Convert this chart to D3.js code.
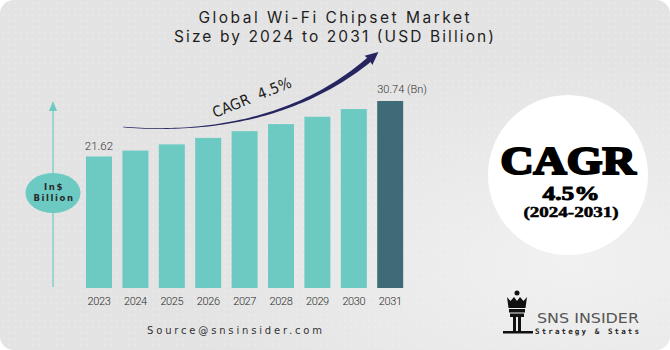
<!DOCTYPE html>
<html>
<head>
<meta charset="utf-8">
<script src="https://cdn.jsdelivr.net/npm/d3@7"></script>
<style>
  html, body { margin: 0; padding: 0; background: #fff; }
  svg { display: block; }
</style>
</head>
<body>
<svg id="chart" width="670" height="350"></svg>
<script>
// données
const years = ["2023", "2024", "2025", "2026", "2027", "2028", "2029", "2030", "2031"];
const values = [21.62, 22.59, 23.61, 24.67, 25.78, 26.94, 28.15, 29.42, 30.74];
const firstLabel = "21.62";
const lastLabel = "30.74 (Bn)";
const titleLines = ["Global Wi-Fi Chipset Market", "Size by 2024 to 2031 (USD Billion)"];
const cagrText = "CAGR  4.5%";
const cagrBadge = ["CAGR", "4.5%", "(2024-2031)"];

const svg = d3.select("#chart");
const W = 670, H = 350;

// fond
const defs = svg.append("defs");
const pat = defs.append("pattern")
    .attr("id", "dots")
    .attr("width", 6).attr("height", 6)
    .attr("patternUnits", "userSpaceOnUse");
pat.append("circle").attr("cx", 3).attr("cy", 3).attr("r", 0.8).attr("fill", "#f4f4f4");

const grad = defs.append("radialGradient")
    .attr("id", "glow").attr("cx", "0.85").attr("cy", "0.75").attr("r", "0.6");
grad.append("stop").attr("offset", "0").attr("stop-color", "#f1f1f1");
grad.append("stop").attr("offset", "1").attr("stop-color", "#e3e3e3");

svg.append("rect")
    .attr("x", 0).attr("y", 0).attr("width", W).attr("height", H)
    .attr("rx", 14).attr("fill", "url(#glow)");
svg.append("rect")
    .attr("x", 0).attr("y", 0).attr("width", W).attr("height", H)
    .attr("rx", 14).attr("fill", "url(#dots)").attr("opacity", 0.55);

// titre
const titleWidths = [271, 320];
svg.append("text")
    .attr("x", 334).attr("y", 0)
    .attr("text-anchor", "middle")
    .attr("font-family", "Inter, sans-serif")
    .attr("font-weight", 400)
    .attr("font-size", 15.5)
    .attr("fill", "#1e1e1e")
    .selectAll("tspan")
    .data(titleLines)
    .enter()
    .append("tspan")
    .attr("x", 334)
    .attr("y", (d, i) => 22.5 + i * 19.5)
    .attr("textLength", (d, i) => titleWidths[i])
    .attr("lengthAdjust", "spacing")
    .text(d => d);

// échelles
const x = d3.scaleBand()
    .domain(years)
    .range([80.8, 408.4])
    .paddingInner(0.286)
    .paddingOuter(0.143);

const y = d3.scaleLinear()
    .domain([0, 30.74])
    .range([288, 101]);

// barres
svg.selectAll("rect.bar")
    .data(values)
    .enter()
    .append("rect")
    .attr("class", "bar")
    .attr("x", (d, i) => x(years[i]))
    .attr("y", d => y(d))
    .attr("width", x.bandwidth())
    .attr("height", d => y(0) - y(d))
    .attr("fill", (d, i) => i === years.length - 1 ? "#3e6b77" : "#6ccac3");

// axe des années
const axis = svg.append("g")
    .attr("transform", `translate(0,${y(0)})`)
    .call(d3.axisBottom(x).tickSize(0).tickPadding(9));
axis.select(".domain").remove();
axis.selectAll("text")
    .attr("font-family", "Roboto, sans-serif")
    .attr("font-weight", 300)
    .attr("font-size", 11)
    .attr("letter-spacing", -0.4)
    .attr("fill", "#2b2b2b");

// étiquettes
svg.append("text")
    .attr("x", x(years[0]) + x.bandwidth() / 2)
    .attr("y", y(values[0]) - 6)
    .attr("text-anchor", "middle")
    .attr("font-family", "Roboto, sans-serif")
    .attr("font-weight", 300)
    .attr("font-size", 11.5)
    .attr("fill", "#333")
    .text(firstLabel);

svg.append("text")
    .attr("x", x(years[8]))
    .attr("y", y(values[8]) - 8)
    .attr("font-family", "Roboto, sans-serif")
    .attr("font-weight", 300)
    .attr("font-size", 11)
    .attr("fill", "#333")
    .text(lastLabel);

// flèche verticale + pastille
svg.append("line")
    .attr("x1", 53).attr("x2", 53)
    .attr("y1", 110).attr("y2", 287)
    .attr("stroke", "#6ccac3").attr("stroke-width", 1.2);
svg.append("path")
    .attr("d", "M53,101 L49,111 L57,111 Z")
    .attr("fill", "#6ccac3");
svg.append("ellipse")
    .attr("cx", 53).attr("cy", 193)
    .attr("rx", 27.5).attr("ry", 20)
    .attr("fill", "#6ccac3");
svg.append("text")
    .attr("text-anchor", "middle")
    .attr("font-family", "'DejaVu Sans', sans-serif")
    .attr("font-weight", "bold")
    .attr("font-size", 8.5)
    .attr("letter-spacing", 1.6)
    .attr("fill", "#2a2a2a")
    .selectAll("tspan")
    .data(["In$", "Billion"])
    .enter()
    .append("tspan")
    .attr("x", 54)
    .attr("y", (d, i) => 190 + i * 11)
    .text(d => d);

// flèche courbe CAGR (trait effilé)
const p0 = [123, 127], p1 = [210, 134], p2 = [300, 118], p3 = [370, 59];
function bez(t, k) {
    const u = 1 - t;
    return u * u * u * p0[k] + 3 * u * u * t * p1[k] + 3 * u * t * t * p2[k] + t * t * t * p3[k];
}
const edgeA = [], edgeB = [];
const N = 60;
for (let i = 0; i <= N; i++) {
    const t = i / N;
    const px = bez(t, 0), py = bez(t, 1);
    const t2 = Math.min(1, t + 0.001), t1 = Math.max(0, t - 0.001);
    const dx = bez(t2, 0) - bez(t1, 0), dy = bez(t2, 1) - bez(t1, 1);
    const len = Math.hypot(dx, dy);
    const nx = -dy / len, ny = dx / len;
    const w = 0.35 + 2.4 * t * t;
    edgeA.push([px + nx * w, py + ny * w]);
    edgeB.push([px - nx * w, py - ny * w]);
}
svg.append("path")
    .attr("d", d3.line()(edgeA.concat(edgeB.reverse())) + "Z")
    .attr("fill", "#262560");
// tête de flèche
{
    const ex = p3[0], ey = p3[1];
    const dx = p3[0] - p2[0], dy = p3[1] - p2[1];
    const len = Math.hypot(dx, dy);
    const ux = dx / len, uy = dy / len;
    const tip = [ex + ux * 11, ey + uy * 11];
    const a = [ex - uy * 6 - ux * 2, ey + ux * 6 - uy * 2];
    const b = [ex + uy * 6 - ux * 2, ey - ux * 6 - uy * 2];
    svg.append("path")
        .attr("d", `M${tip}L${a}L${ex - ux * 1},${ey - uy * 1}L${b}Z`)
        .attr("fill", "#262560");
}

svg.append("text")
    .attr("transform", "translate(215,118) rotate(-22)")
    .attr("font-family", "'DejaVu Sans Condensed', 'Liberation Sans Narrow', sans-serif")
    .attr("font-size", 15)
    .attr("letter-spacing", 0.3)
    .attr("fill", "#1c1c1c")
    .style("white-space", "pre")
    .text(cagrText);

// pastille CAGR à droite
svg.append("circle")
    .attr("cx", 568).attr("cy", 175).attr("r", 80)
    .attr("fill", "#ffffff");
svg.append("text")
    .attr("x", 568).attr("y", 173.5)
    .attr("text-anchor", "middle")
    .attr("font-family", "'Liberation Serif', serif")
    .attr("font-weight", "bold")
    .attr("font-size", 39)
    .attr("textLength", 135)
    .attr("lengthAdjust", "spacingAndGlyphs")
    .attr("fill", "#000")
    .attr("stroke", "#000")
    .attr("stroke-width", 2.2)
    .text(cagrBadge[0]);
svg.append("text")
    .attr("x", 571).attr("y", 199.5)
    .attr("text-anchor", "middle")
    .attr("font-family", "'Liberation Serif', serif")
    .attr("font-weight", "bold")
    .attr("font-size", 19)
    .attr("textLength", 57)
    .attr("lengthAdjust", "spacingAndGlyphs")
    .attr("fill", "#000")
    .attr("stroke", "#000")
    .attr("stroke-width", 0.9)
    .text(cagrBadge[1]);
svg.append("text")
    .attr("x", 571).attr("y", 216.5)
    .attr("text-anchor", "middle")
    .attr("font-family", "'Liberation Serif', serif")
    .attr("font-weight", "bold")
    .attr("font-size", 14)
    .attr("textLength", 95)
    .attr("lengthAdjust", "spacingAndGlyphs")
    .attr("fill", "#000")
    .attr("stroke", "#000")
    .attr("stroke-width", 0.5)
    .text(cagrBadge[2]);

// source
svg.append("text")
    .attr("x", 147).attr("y", 334)
    .attr("font-family", "'DejaVu Sans', sans-serif")
    .attr("font-size", 10)
    .attr("textLength", 175)
    .attr("lengthAdjust", "spacing")
    .attr("fill", "#333")
    .text("Source@snsinsider.com");

// logo
const logo = svg.append("g").attr("fill", "#111");
logo.append("circle").attr("cx", 517).attr("cy", 293).attr("r", 2.5);
logo.append("path").attr("d", "M507,297 L510.5,301 L514,297 L517,301 L520,297 L523.5,301 L527,297 L525.5,308 L508.5,308 Z");
logo.append("rect").attr("x", 509).attr("y", 309).attr("width", 16).attr("height", 3.5);
logo.append("path").attr("d", "M510,313.5 L524,313.5 L524,317 L521,317 L521,331 L518,331 L518,317 L516,317 L516,331 L513,331 L513,317 L510,317 Z");
logo.append("rect").attr("x", 503).attr("y", 331).attr("width", 30).attr("height", 2.5);

svg.append("text")
    .attr("x", 537).attr("y", 322.5)
    .attr("font-family", "'DejaVu Sans', sans-serif")
    .attr("font-size", 14.5)
    .attr("textLength", 102)
    .attr("lengthAdjust", "spacingAndGlyphs")
    .attr("fill", "#555")
    .text("SNS INSIDER");
svg.append("text")
    .attr("x", 535).attr("y", 334)
    .attr("font-family", "'DejaVu Sans Mono', monospace")
    .attr("font-weight", "bold")
    .attr("font-size", 7.5)
    .attr("textLength", 104)
    .attr("lengthAdjust", "spacing")
    .attr("fill", "#222")
    .text("Strategy & Stats");
</script>
</body>
</html>
